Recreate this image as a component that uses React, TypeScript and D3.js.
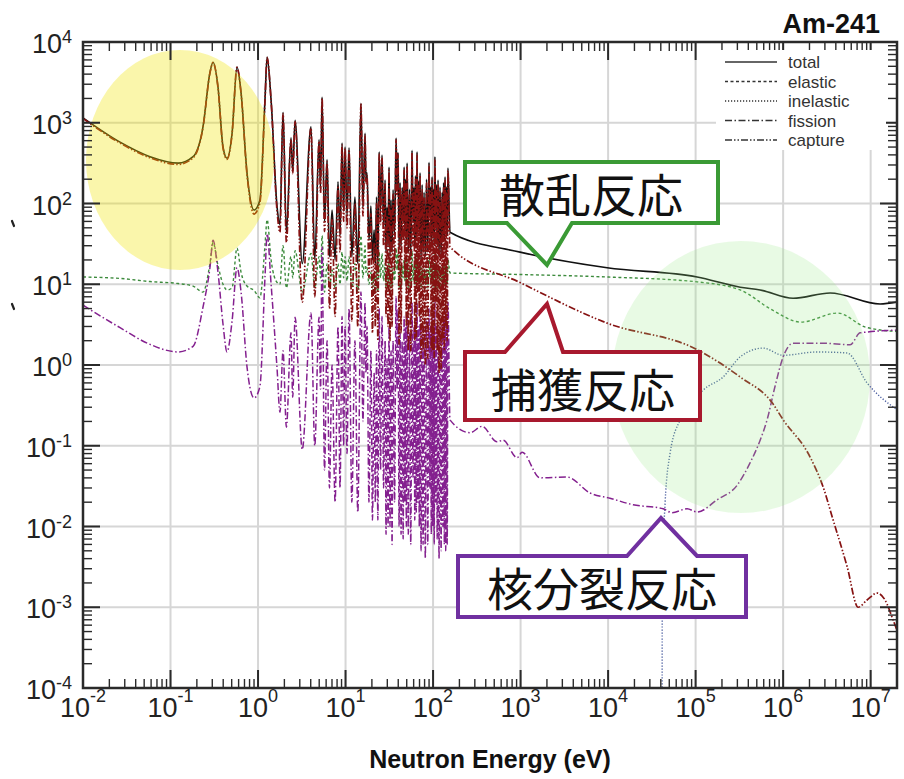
import React from "react";
import * as d3 from "d3";

// resolved resonance region: shared energy grid (eV) and cross sections (barns)
const resE = [
  0.01, 0.0265, 0.0583, 0.122, 0.181, 0.235, 0.282, 0.306, 0.349, 0.398, 0.442, 0.505, 0.575, 0.64, 0.748, 0.9,
  1.05, 1.2, 1.27, 1.41, 1.65, 1.78, 1.93, 2.11, 2.38, 2.49, 2.65, 3.2, 4.03, 4.45, 4.98, 5.18, 5.39, 5.75,
  6.15, 6.55, 7.01, 7.6, 8.2, 8.65, 9.12, 9.5, 9.87, 10.4, 10.96, 11.8, 12.8, 13.8, 15.0, 15.8, 16.7, 17.1,
  17.6, 18.5, 19.5,
  20.3, 21.2, 21.9, 22.6, 23.4, 24.2, 25.1, 26.1, 27.2, 28.3, 29.0, 29.8, 30.6, 31.4, 32.2, 33.1, 34.0, 34.9,
  36.3, 37.8, 38.8, 39.8, 40.9, 42.0, 43.1, 44.3, 45.5, 46.7, 47.6, 48.6, 49.5, 50.5, 52.1, 53.8, 55.6, 57.5,
  59.0, 60.7, 61.8, 63.0, 64.3, 65.6, 66.9, 68.2, 69.6, 71.0, 72.9, 75.0, 76.9, 78.9, 81.5, 84.2, 87.0, 89.9,
  91.7, 93.5, 95.4, 97.4, 99.2, 101, 103, 105, 107, 109, 111.5, 114, 117, 120, 123.5, 127, 129.5, 132, 134.5,
  137, 139.5, 142, 145, 148,
];
const resTotal = [
  1150, 575, 380, 316, 380, 891, 4170, 5620, 2750, 501, 363, 741, 4900, 2340, 240, 83,
  110, 1900, 6500, 1900, 91, 55, 1350, 43, 650, 250, 1070, 18, 890, 20, 620, 150, 2080, 60,
  350, 22, 83, 20, 186, 40, 560, 80, 500, 70, 490, 22, 120, 18, 1740, 90, 740, 200,
  240, 35, 93,
  20, 47, 18, 120, 17, 437, 80, 398, 50, 195, 25, 90, 30, 282, 22, 110, 25, 148, 40, 645,
  150, 427, 28, 180, 30, 158, 60, 282, 45, 200, 35, 316, 25, 150, 22, 457, 60, 158, 30, 220,
  35, 437, 50, 190, 40, 240, 20, 170, 25, 138, 22, 200, 25, 324, 70, 160, 30, 214, 40, 150,
  30, 380, 55, 170, 30, 195, 22, 160, 22, 138, 40, 180, 35, 214, 50, 160, 40, 275,
];
const resElastic = [
  12.3, 11.8, 10.8, 10.2, 9.5, 8.0, 18, 33, 17, 10, 8.5, 9.0, 28, 14, 9.5, 8.4,
  6.8, 30, 63, 20, 10.5, 10, 30, 9, 22, 12, 26, 8, 24, 9, 22, 12, 40, 8,
  18, 9, 15, 9, 18, 10, 25, 12, 22, 11, 22, 9, 18, 8, 40, 12, 30, 14,
  16, 10, 14,
  9, 13, 8, 15, 8, 25, 12, 24, 11, 18, 9, 14, 10, 20, 9, 15, 9, 16, 11, 28,
  15, 24, 9, 17, 9, 17, 12, 20, 11, 18, 10, 21, 9, 16, 9, 26, 11, 17, 10, 18,
  10, 25, 11, 17, 10, 19, 9, 16, 9, 17, 9, 17, 9, 22, 12, 16, 10, 18, 10, 16,
  9, 24, 11, 16, 9, 17, 9, 16, 9, 16, 10, 17, 10, 18, 11, 16, 10, 20,
];
const resCapture = [
  1130, 560, 368, 305, 368, 875, 4120, 5550, 2710, 488, 352, 728, 4850, 2310, 229, 74,
  102, 1850, 6400, 1860, 80, 44, 1300, 33, 620, 235, 1030, 6, 860, 7, 590, 135, 2000, 45,
  330, 5, 66, 4, 165, 25, 530, 60, 475, 50, 465, 3.5, 100, 3, 1700, 70, 700, 180,
  220, 12, 75,
  2.5, 32, 3, 100, 2, 410, 55, 370, 30, 175, 4, 70, 3, 260, 2, 90, 3, 130, 15, 615,
  125, 400, 1.8, 160, 2.5, 140, 35, 260, 12, 180, 3, 290, 1.5, 130, 1.5, 430, 30, 140, 2, 200,
  2.2, 410, 8, 170, 4, 220, 1.2, 150, 1.5, 120, 1.0, 180, 1.2, 300, 20, 140, 1.5, 195, 1.5, 130,
  1.2, 355, 6, 150, 1.5, 175, 0.8, 140, 0.9, 120, 2, 160, 1.5, 195, 3, 140, 2, 255,
];
const resFission = [
  5.5, 2.9, 1.8, 1.45, 1.7, 5.2, 16, 35, 14, 3.2, 1.45, 3.5, 16, 8, 0.95, 0.39,
  0.54, 12, 42, 10, 0.9, 0.26, 1.5, 0.17, 2.5, 0.4, 3.9, 0.09, 4.4, 0.1, 3.9, 0.5, 29, 0.05,
  2, 0.03, 1.0, 0.02, 3, 0.03, 4, 0.1, 3, 0.08, 5, 0.02, 2, 0.015, 8, 0.2, 6, 0.8,
  3, 0.02, 1.5,
  0.012, 0.8, 0.02, 1.5, 0.012, 5, 0.05, 4, 0.03, 2, 0.008, 1.2, 0.01, 3, 0.01, 1.5, 0.006, 2, 0.02, 7,
  0.5, 5, 0.01, 2.5, 0.008, 2, 0.007, 4, 0.02, 3, 0.01, 4, 0.008, 2.5, 0.006, 6, 0.04, 3, 0.012, 3,
  0.015, 6, 0.02, 3, 0.01, 4, 0.005, 3, 0.006, 3, 0.004, 3.5, 0.006, 5, 0.03, 3, 0.008, 4, 0.01, 3,
  0.006, 6, 0.02, 3, 0.007, 3, 0.004, 3, 0.005, 3, 0.01, 4, 0.006, 5, 0.005, 4, 0.006, 6,
];

// smooth (unresolved / fast) region
const totalHiE = [156, 986, 9750, 1.04e5, 3.23e5, 5.46e5, 1.3e6, 3.44e6, 1.28e7, 2e7];
const totalHi = [44, 25, 16, 12.3, 9.2, 8.5, 6.7, 7.8, 5.7, 6.0];
const elasticHiE = [156, 986, 9750, 1.04e5, 3.23e5, 7.5e5, 1.59e6, 4.2e6, 8.7e6, 2e7];
const elasticHi = [13.8, 13.2, 12.3, 10.7, 8.5, 4.8, 3.4, 4.4, 2.95, 2.6];
const captureHiE = [
  156, 986, 9750, 1.04e5, 3.23e5, 7.5e5, 1e6, 2.04e6, 2.86e6, 3.73e6, 5.38e6, 7.19e6, 9.1e6, 1.19e7, 1.46e7,
  1.81e7, 2e7,
];
const captureHi = [
  29, 10.5, 3.3, 1.55, 0.71, 0.34, 0.21, 0.072, 0.031, 0.012, 0.0032, 0.001, 0.00123, 0.0015, 0.00123, 0.00069,
  0.00052,
];
const fissionHiE = [
  156, 265, 363, 538, 631, 912, 1040, 1670, 3400, 6220, 10500, 19300, 42500, 53900, 80000, 1.04e5, 1.76e5,
  2.98e5, 4.2e5, 5.46e5, 6.56e5, 8.1e5, 1e6, 1.3e6, 2.86e6, 5.83e6, 7.59e6, 2e7,
];
const fissionHi = [
  0.209, 0.145, 0.174, 0.112, 0.117, 0.071, 0.083, 0.04, 0.041, 0.026, 0.0224, 0.0186, 0.0166, 0.0148, 0.0166,
  0.0151, 0.0214, 0.0324, 0.0617, 0.117, 0.21, 0.55, 1.26, 1.86, 1.86, 1.78, 2.5, 2.7,
];
const inelasticE = [41400, 41500, 42500, 44800, 51100, 66500, 1.22e5, 2.06e5, 3.23e5, 5.9e5, 1e6, 2.45e6, 5.38e6, 9.1e6, 2e7];
const inelasticXS = [1e-5, 0.0006, 0.0038, 0.0195, 0.081, 0.21, 0.49, 0.71, 1.26, 1.62, 1.32, 1.45, 1.41, 0.6, 0.28];

const xDecades = [-2, -1, 0, 1, 2, 3, 4, 5, 6, 7];
const yDecades = [-4, -3, -2, -1, 0, 1, 2, 3, 4];
const legendItems = ["total", "elastic", "inelastic", "fission", "capture"];

const FONT = "'Liberation Sans', Arial, sans-serif";
const CJK = "'Noto Sans CJK JP', 'Noto Sans CJK SC', sans-serif";

const styles = {
  total: { stroke: "#111", dash: "none", w: 1.6 },
  elastic: { stroke: "#3d8b3d", dash: "3,2.5", w: 1.4 },
  inelastic: { stroke: "#4b5ea0", dash: "1.2,1.8", w: 1.4 },
  fission: { stroke: "#84208f", dash: "7,2.5,1.5,2.5", w: 1.5 },
  capture: { stroke: "#861212", dash: "7,2,1.5,2,1.5,2", w: 1.7 },
};

const zip = (e: number[], v: number[]) => e.map((d, i) => [d, v[i]] as [number, number]);
const sup = (p: number) => (p < 0 ? `-${-p}` : `${p}`);

export default function App() {
  const W = 904;
  const H = 779;
  const x = d3.scaleLog().domain([1e-2, 2e7]).range([83, 897]);
  const y = d3.scaleLog().domain([1e-4, 1e4]).range([688, 42]);
  const [x0, x1] = x.range();
  const [y0, y1] = y.range();

  const line = d3
    .line<[number, number]>()
    .x((d) => x(d[0]))
    .y((d) => y(d[1]))
    .curve(d3.curveMonotoneX);

  const series = {
    total: zip(resE, resTotal).concat(zip(totalHiE, totalHi)),
    elastic: zip(resE, resElastic).concat(zip(elasticHiE, elasticHi)),
    inelastic: zip(inelasticE, inelasticXS),
    fission: zip(resE, resFission).concat(zip(fissionHiE, fissionHi)),
    capture: zip(resE, resCapture).concat(zip(captureHiE, captureHi)),
  };
  const drawOrder = ["total", "elastic", "inelastic", "fission", "capture"];

  const xMinor: number[] = [];
  xDecades.forEach((p) => {
    for (let k = 2; k <= 9; k++) {
      const v = k * Math.pow(10, p);
      if (v <= 2e7) xMinor.push(v);
    }
  });
  const yMinor: number[] = [];
  yDecades.slice(0, -1).forEach((p) => {
    for (let k = 2; k <= 9; k++) yMinor.push(k * Math.pow(10, p));
  });

  const axisColor = "#2a2a2a";

  return (
    <svg width={W} height={H} style={{ position: "absolute", left: 0, top: 0, background: "#fff" }}>
      <defs>
        <clipPath id="plot">
          <rect x={x0} y={y1} width={x1 - x0} height={y0 - y1} />
        </clipPath>
      </defs>

      {/* grid */}
      <g stroke="#d6d6d6" strokeWidth={2}>
        {xDecades.slice(1).map((p) => (
          <line key={"gx" + p} x1={x(Math.pow(10, p))} x2={x(Math.pow(10, p))} y1={y1} y2={y0} />
        ))}
        {yDecades.slice(1, -1).map((p) => (
          <line key={"gy" + p} x1={x0} x2={x1} y1={y(Math.pow(10, p))} y2={y(Math.pow(10, p))} />
        ))}
      </g>

      {/* curves */}
      <g clipPath="url(#plot)" fill="none">
        {drawOrder.map((k) => {
          const s = styles[k as keyof typeof styles];
          return (
            <path
              key={k}
              d={line(series[k as keyof typeof series]) || ""}
              stroke={s.stroke}
              strokeWidth={s.w}
              strokeDasharray={s.dash}
              strokeLinejoin="round"
            />
          );
        })}
      </g>

      {/* highlight ellipses */}
      <ellipse cx={180} cy={160} rx={94} ry={110} fill="#f0e400" opacity={0.33} />
      <ellipse cx={741} cy={377} rx={129} ry={136} fill="#96e682" opacity={0.22} />

      {/* axes frame and ticks */}
      <g stroke={axisColor}>
        {xDecades.map((p) => {
          const xx = x(Math.pow(10, p));
          return (
            <g key={"xt" + p} strokeWidth={2}>
              <line x1={xx} x2={xx} y1={y0} y2={y0 - 18} />
              <line x1={xx} x2={xx} y1={y1} y2={y1 + 18} />
            </g>
          );
        })}
        {xMinor.map((v, i) => (
          <g key={"xm" + i} strokeWidth={1.4}>
            <line x1={x(v)} x2={x(v)} y1={y0} y2={y0 - 9} />
            <line x1={x(v)} x2={x(v)} y1={y1} y2={y1 + 9} />
          </g>
        ))}
        {yDecades.map((p) => {
          const yy = y(Math.pow(10, p));
          return (
            <g key={"yt" + p} strokeWidth={2}>
              <line x1={x0} x2={x0 + 17} y1={yy} y2={yy} />
              <line x1={x1} x2={x1 - 17} y1={yy} y2={yy} />
            </g>
          );
        })}
        {yMinor.map((v, i) => (
          <g key={"ym" + i} strokeWidth={1.4}>
            <line x1={x0} x2={x0 + 9} y1={y(v)} y2={y(v)} />
            <line x1={x1} x2={x1 - 9} y1={y(v)} y2={y(v)} />
          </g>
        ))}
        <rect x={x0} y={y1} width={x1 - x0} height={y0 - y1} fill="none" strokeWidth={2.5} />
      </g>

      {/* tick labels */}
      <g fontFamily={FONT} fill="#222" fontSize={27}>
        {xDecades.map((p) => (
          <text key={"xl" + p} x={x(Math.pow(10, p))} y={717} textAnchor="middle">
            10
            <tspan dy={-15} fontSize={18}>
              {sup(p)}
            </tspan>
          </text>
        ))}
        {yDecades.map((p) => (
          <text key={"yl" + p} x={72} y={y(Math.pow(10, p)) + 11} textAnchor="end">
            10
            <tspan dy={-10} fontSize={18}>
              {sup(p)}
            </tspan>
          </text>
        ))}
      </g>

      {/* stray marks of the cropped y title */}
      <g stroke="#222" strokeWidth={2.2} strokeLinecap="round">
        <line x1={12} y1={221} x2={14} y2={226} />
        <line x1={12} y1={304} x2={14} y2={309} />
      </g>

      <text x={490} y={768} textAnchor="middle" fontFamily={FONT} fontWeight="bold" fontSize={25} fill="#111">
        Neutron Energy (eV)
      </text>
      <text x={880} y={33} textAnchor="end" fontFamily={FONT} fontWeight="bold" fontSize={27} fill="#111">
        Am-241
      </text>

      {/* legend */}
      <rect x={716} y={50} width={170} height={100} fill="#fff" />
      <g fontFamily={FONT} fontSize={17} fill="#333">
        {legendItems.map((k, i) => {
          const s = styles[k as keyof typeof styles];
          const ly = 62 + i * 19.5;
          return (
            <g key={"lg" + k}>
              <line x1={725} x2={777} y1={ly} y2={ly} stroke="#333" strokeWidth={1.3} strokeDasharray={s.dash} />
              <text x={788} y={ly + 6}>
                {k}
              </text>
            </g>
          );
        })}
      </g>

      {/* callouts */}
      <g fill="#fff" strokeWidth={4} strokeLinejoin="miter">
        <path d="M465,162 H718 V223 H572 L547,265 L507,223 H465 Z" stroke="#3a9a35" />
        <path d="M465,352 H505 L547,304 L563,352 H700 V420 H465 Z" stroke="#a8192e" />
        <path d="M458,556 H627 L661,518 L697,556 H746 V617 H458 Z" stroke="#7030a0" />
      </g>
      <g fontFamily={CJK} fontSize={46} fill="#111" textAnchor="middle" dominantBaseline="central">
        <text x={591} y={192}>散乱反応</text>
        <text x={583} y={387}>捕獲反応</text>
        <text x={602} y={586}>核分裂反応</text>
      </g>
    </svg>
  );
}
